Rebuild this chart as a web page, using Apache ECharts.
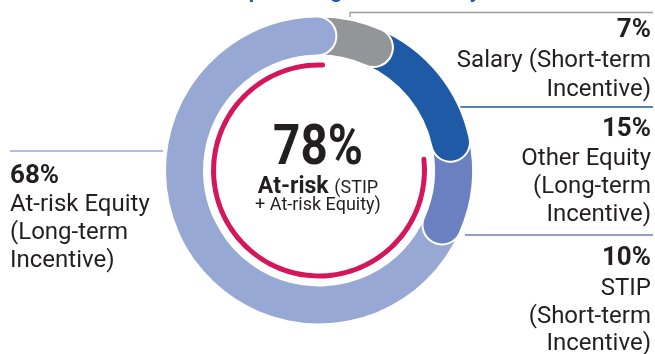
<!DOCTYPE html>
<html>
<head>
<meta charset="utf-8">
<script src="https://cdn.jsdelivr.net/npm/echarts@6/dist/echarts.min.js"></script>
<style>
  html, body { margin: 0; padding: 0; background: #fff; }
  #chart { width: 655px; height: 354px; }
</style>
</head>
<body>
<div id="chart"></div>
<script>
// ---- Pay mix data (clockwise from the top of the ring) ----
const categories = ['Salary', 'Other Equity', 'STIP', 'At-risk Equity'];
const shares = [7, 15, 10, 68];
const shareColors = ['#939598', '#1f5aa6', '#6b80c0', '#98a8d4'];
const atRiskShare = 78;               // STIP + At-risk Equity
const descLines = [
  ['Salary (Short-term', 'Incentive)'],
  ['Other Equity', '(Long-term', 'Incentive)'],
  ['STIP', '(Short-term', 'Incentive)'],
  ['At-risk Equity', '(Long-term', 'Incentive)']
];
const centerLines = ['At-risk', '(STIP', '+ At-risk Equity)'];
const titleText = 'Compensating Leaders Fairly';

// ---- Layout ----
const FONT = 'Roboto';
const INK = '#231f20';
const PINK = '#d4175b';
const CX = 319, CY = 170.5;
const R_IN = 116, R_OUT = 153;
const FIRST_TIP = 7;   // degrees clockwise from 12 o'clock where the first segment starts
const TUCK = 17;       // each segment starts tucked under the rounded end of the previous one
const MID_K = 0.26;    // canvas "middle" sits this many ems above the alphabetic baseline

let acc = FIRST_TIP;
const ends = shares.map(s => (acc += s * 3.6));
const starts = [FIRST_TIP].concat(ends.slice(0, -1));

const base = {
  type: 'pie', silent: true, animation: false, center: [CX, CY], clockwise: true,
  label: { show: false }, labelLine: { show: false }, emphasis: { disabled: true }
};

// one rounded arc between two clock angles (degrees clockwise from 12 o'clock)
function arc(name, value, from, to, color, bordered, z) {
  const rIn = bordered ? R_IN - 1 : R_IN;
  const rOut = bordered ? R_OUT + 1 : R_OUT;
  return Object.assign({}, base, {
    name, z,
    radius: [rIn, rOut],
    startAngle: 90 - from,
    endAngle: 90 - to,
    data: [{
      name, value,
      itemStyle: {
        color,
        borderRadius: (rOut - rIn) / 2,
        borderColor: '#fff',
        borderWidth: bordered ? 2 : 0
      }
    }]
  });
}

const L = 3; // index of the large At-risk Equity share
const series = [
  arc(categories[L], shares[L], starts[L] - TUCK, starts[L] + 130, shareColors[L], false, 1),
  arc(categories[2], shares[2], starts[2] - TUCK, ends[2], shareColors[2], true, 2),
  arc(categories[1], shares[1], starts[1] - TUCK, ends[1], shareColors[1], true, 3),
  arc(categories[0], shares[0], starts[0] - TUCK, ends[0], shareColors[0], true, 4),
  arc('outline', shares[L], ends[L] - 75, ends[L], '#fff', false, 5),
  arc(categories[L], shares[L], starts[L] + 105, ends[L], shareColors[L], false, 6),
  Object.assign({}, base, {
    name: 'At-risk', z: 7,
    radius: [103, 108],
    startAngle: 90 - (ends[1] - 3.7),
    data: [
      { name: 'At-risk', value: atRiskShare, itemStyle: { color: PINK, borderRadius: 2.5 } },
      { name: 'Fixed', value: 100 - atRiskShare, itemStyle: { color: 'rgba(0,0,0,0)' } }
    ]
  })
];
// halo under the last segment's rounded end keeps a white rim where it overlaps the first
series[4].data[0].itemStyle.borderWidth = 4;

// ---- Text helpers ----
function txt(text, x, baseline, size, weight, align, color, extra) {
  return Object.assign({
    type: 'text', x, y: baseline - MID_K * size, silent: true,
    style: {
      text, fontFamily: FONT, fontSize: size, fontWeight: weight, fill: color || INK,
      align, verticalAlign: 'middle', textAlign: align, textVerticalAlign: 'middle'
    }
  }, extra || {});
}
function block(k, x, baselines, align) {
  const out = [txt(shares[k] + '%', x, baselines[0], 26, 'bold', align)];
  descLines[k].forEach((t, i) => out.push(txt(t, x, baselines[i + 1], 24, 'normal', align)));
  return out;
}
function rule(points, color) {
  return { type: 'polyline', silent: true, shape: { points }, style: { stroke: color, lineWidth: 1.3, fill: null } };
}

const meas = document.createElement('canvas').getContext('2d');
function width(t, size, weight) {
  meas.font = weight + ' ' + size + 'px ' + FONT;
  return meas.measureText(t).width;
}
const w1 = width(centerLines[0] + ' ', 23, 'bold');
const w2 = width(centerLines[1], 18, 'normal');
const midX = 318;
const left0 = midX - (w1 + w2) / 2;

const graphics = [
  txt(titleText, 205, -1.5, 21, 'bold', 'left', '#1f5aa6'),
  rule([[350, 17], [350, 12.5], [653, 12.5]], '#9b9b9b'),
  rule([[460, 107], [653, 107]], shareColors[1]),
  rule([[465, 235], [653, 235]], shareColors[2]),
  rule([[10, 151], [163, 151]], shareColors[3]),
  ...block(0, 651, [37.5, 67, 96], 'right'),
  ...block(1, 651, [136, 165, 193, 221], 'right'),
  ...block(2, 651, [265, 295, 323, 350], 'right'),
  ...block(3, 10, [183, 211, 239, 267], 'left'),
  txt(atRiskShare + '%', midX, 165, 56, 'bold', 'center', INK, { scaleX: 0.85 }),
  txt(centerLines[0], left0, 193, 23, 'bold', 'left'),
  txt(centerLines[1], left0 + w1, 193, 18, 'normal', 'left'),
  txt(centerLines[2], midX, 210, 18, 'normal', 'center')
];

const chart = echarts.init(document.getElementById('chart'), null, { renderer: 'canvas' });
chart.setOption({
  backgroundColor: '#fff',
  animation: false,
  series,
  graphic: { elements: graphics }
});
</script>
</body>
</html>
